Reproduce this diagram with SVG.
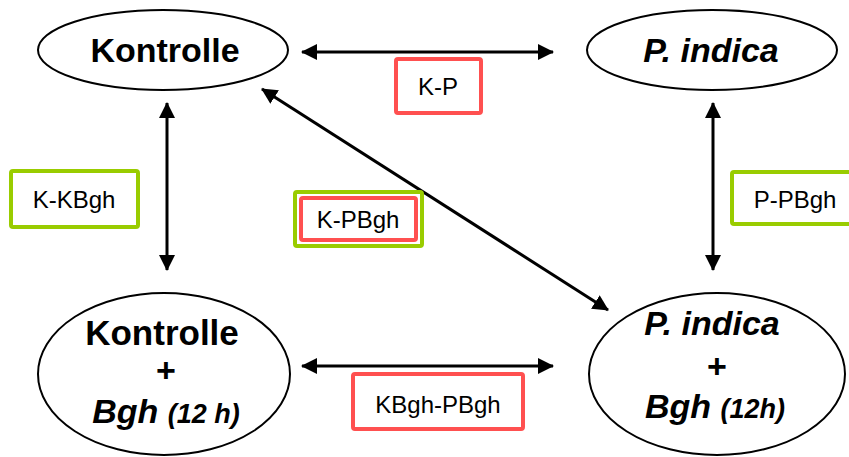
<svg xmlns="http://www.w3.org/2000/svg" width="849" height="457" viewBox="0 0 849 457">
<defs>
<marker id="ah" viewBox="0 0 16 16" refX="15" refY="8" markerWidth="16" markerHeight="16" markerUnits="userSpaceOnUse" orient="auto-start-reverse">
<path d="M0,0 L16,8 L0,16 Z" fill="#000"/>
</marker>
</defs>
<style>
.node{fill:#fff;stroke:#000;stroke-width:2}
.t{font-family:"Liberation Sans",Arial,sans-serif;font-weight:bold;fill:#000;text-anchor:middle}
.lbl{font-family:"Liberation Sans",Arial,sans-serif;font-size:24px;fill:#000;text-anchor:middle}
.g{fill:#fff;stroke:#99CC00;stroke-width:4}
.r{fill:#fff;stroke:#FF5050;stroke-width:4}
.c{stroke:#000;stroke-width:3;fill:none;marker-start:url(#ah);marker-end:url(#ah)}
</style>
<rect width="849" height="457" fill="#fff"/>
<g id="connectors">
<line class="c" x1="302" y1="52" x2="553" y2="52"/>
<line class="c" x1="302" y1="366" x2="553" y2="366"/>
<line class="c" x1="167" y1="103" x2="167" y2="270"/>
<line class="c" x1="713" y1="103" x2="713" y2="270"/>
<line class="c" x1="262" y1="89" x2="608" y2="310"/>
</g>
<g id="n-kontrolle">
<ellipse class="node" cx="163" cy="50" rx="125" ry="40"/>
<text class="t" x="165" y="62" font-size="34">Kontrolle</text>
</g>
<g id="n-pindica">
<ellipse class="node" cx="712" cy="50" rx="125" ry="40"/>
<text class="t" x="711" y="62" font-size="34" font-style="italic">P. indica</text>
</g>
<g id="n-kontrolle-bgh">
<ellipse class="node" cx="164" cy="374" rx="126" ry="81"/>
<text class="t" x="162" y="345" font-size="35">Kontrolle</text>
<text class="t" x="166" y="382" font-size="34">+</text>
<text class="t" x="166" y="423" font-size="34" font-style="italic">Bgh <tspan font-size="27">(12 h)</tspan></text>
</g>
<g id="n-pindica-bgh">
<ellipse class="node" cx="717" cy="374" rx="128" ry="81"/>
<text class="t" x="712" y="335" font-size="34" font-style="italic">P. indica</text>
<text class="t" x="717" y="378" font-size="34">+</text>
<text class="t" x="715" y="418" font-size="34" font-style="italic">Bgh <tspan font-size="27">(12h)</tspan></text>
</g>
<g id="l-kp">
<rect class="r" x="396" y="59" width="85" height="54" rx="2"/>
<text class="lbl" x="438" y="95">K-P</text>
</g>
<g id="l-kkbgh">
<rect class="g" x="11" y="171" width="127" height="56" rx="2"/>
<text class="lbl" x="74" y="208">K-KBgh</text>
</g>
<g id="l-kpbgh">
<rect class="g" x="295" y="192" width="127" height="54" rx="2"/>
<rect class="r" x="301" y="198" width="115" height="42" rx="2"/>
<text class="lbl" x="358" y="228">K-PBgh</text>
</g>
<g id="l-ppbgh">
<rect class="g" x="732" y="172" width="125" height="52" rx="2"/>
<text class="lbl" x="795" y="208">P-PBgh</text>
</g>
<g id="l-kbghpbgh">
<rect class="r" x="353" y="374" width="170" height="55" rx="2"/>
<text class="lbl" x="438" y="413">KBgh-PBgh</text>
</g>
</svg>
